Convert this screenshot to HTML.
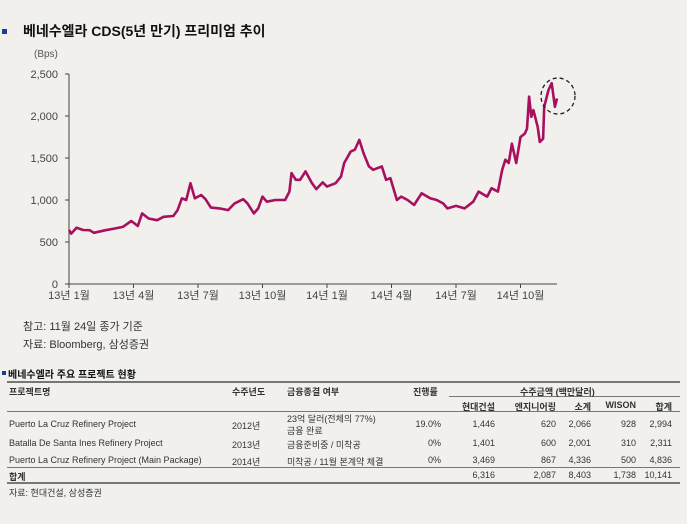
<!DOCTYPE html>
<html><head><meta charset="utf-8"><style>
body{margin:0;width:687px;height:524px;background:#f1f0ed;font-family:"Liberation Sans","Noto Sans CJK KR",sans-serif;color:#222;overflow:hidden;position:relative}
.a{position:absolute;white-space:nowrap}
.t{font-size:9px;color:#333}
.r{text-align:right}
.ln{position:absolute;height:0;border-top:1px solid #777}
</style></head><body>
<div class="a" style="left:2px;top:29px;width:5px;height:5px;background:#1a3d9a"></div>
<div class="a" style="left:23px;top:21px;font-size:14px;font-weight:bold;color:#111">베네수엘라 CDS(5년 만기) 프리미엄 추이</div>
<svg class="a" style="left:0;top:0" width="687" height="360">
<g id="axes"></g><path id="line" fill="none" stroke="#a8105f" stroke-width="2.6" stroke-linejoin="round"></path>
<ellipse cx="558" cy="96" rx="17" ry="18" fill="none" stroke="#222" stroke-width="1.3" stroke-dasharray="4,3"></ellipse>
</svg>
<div class="a" style="left:34px;top:49px;font-size:10px;color:#555">(Bps)</div>
<div class="a" style="left:23px;top:318px;font-size:11px;color:#333">참고: 11월 24일 종가 기준</div>
<div class="a" style="left:23px;top:336px;font-size:11px;color:#333">자료: Bloomberg, 삼성증권</div>

<div class="a" style="left:2px;top:371px;width:4px;height:4px;background:#1a3d9a"></div>
<div class="a" style="left:8px;top:366px;font-size:10px;font-weight:bold;color:#111">베네수엘라 주요 프로젝트 현황</div>
<div class="ln" style="left:7px;width:673px;top:381px;border-top:2px solid #777"></div>
<div class="ln" style="left:449px;width:231px;top:396px"></div>
<div class="ln" style="left:7px;width:673px;top:411px"></div>
<div class="ln" style="left:7px;width:673px;top:467px"></div>
<div class="ln" style="left:7px;width:673px;top:482px;border-top:2px solid #777"></div>
<div>
<div class="a t" style="left:9px;top:385px;font-weight:bold">프로젝트명</div>
<div class="a t" style="left:232px;top:385px;font-weight:bold">수주년도</div>
<div class="a t" style="left:287px;top:385px;font-weight:bold">금융종결 여부</div>
<div class="a t" style="left:413px;top:385px;font-weight:bold">진행률</div>
<div class="a t" style="left:520px;top:385px;font-weight:bold">수주금액 (백만달러)</div>
<div class="a t r" style="right:192px;top:400px;font-weight:bold">현대건설</div>
<div class="a t r" style="right:131px;top:400px;font-weight:bold">엔지니어링</div>
<div class="a t r" style="right:96px;top:400px;font-weight:bold">소계</div>
<div class="a t r" style="right:51px;top:400px;font-weight:bold">WISON</div>
<div class="a t r" style="right:15px;top:400px;font-weight:bold">합계</div>

<div class="a t" style="left:9px;top:419px">Puerto La Cruz Refinery Project</div>
<div class="a t" style="left:232px;top:419px">2012년</div>
<div class="a t" style="left:287px;top:413px;line-height:12px">23억 달러(전체의 77%)<br>금융 완료</div>
<div class="a t r" style="right:246px;top:419px">19.0%</div>
<div class="a t r" style="right:192px;top:419px">1,446</div>
<div class="a t r" style="right:131px;top:419px">620</div>
<div class="a t r" style="right:96px;top:419px">2,066</div>
<div class="a t r" style="right:51px;top:419px">928</div>
<div class="a t r" style="right:15px;top:419px">2,994</div>

<div class="a t" style="left:9px;top:438px">Batalla De Santa Ines Refinery Project</div>
<div class="a t" style="left:232px;top:438px">2013년</div>
<div class="a t" style="left:287px;top:438px">금융준비중 / 미착공</div>
<div class="a t r" style="right:246px;top:438px">0%</div>
<div class="a t r" style="right:192px;top:438px">1,401</div>
<div class="a t r" style="right:131px;top:438px">600</div>
<div class="a t r" style="right:96px;top:438px">2,001</div>
<div class="a t r" style="right:51px;top:438px">310</div>
<div class="a t r" style="right:15px;top:438px">2,311</div>

<div class="a t" style="left:9px;top:455px">Puerto La Cruz Refinery Project (Main Package)</div>
<div class="a t" style="left:232px;top:455px">2014년</div>
<div class="a t" style="left:287px;top:455px">미착공 / 11월 본계약 체결</div>
<div class="a t r" style="right:246px;top:455px">0%</div>
<div class="a t r" style="right:192px;top:455px">3,469</div>
<div class="a t r" style="right:131px;top:455px">867</div>
<div class="a t r" style="right:96px;top:455px">4,336</div>
<div class="a t r" style="right:51px;top:455px">500</div>
<div class="a t r" style="right:15px;top:455px">4,836</div>

<div class="a t" style="left:9px;top:470px;font-weight:bold">합계</div>
<div class="a t r" style="right:192px;top:470px">6,316</div>
<div class="a t r" style="right:131px;top:470px">2,087</div>
<div class="a t r" style="right:96px;top:470px">8,403</div>
<div class="a t r" style="right:51px;top:470px">1,738</div>
<div class="a t r" style="right:15px;top:470px">10,141</div>
</div>
<div class="a t" style="left:9px;top:486px">자료: 현대건설, 삼성증권</div>

<script>
const months=[0,0.1,0.35,0.65,0.96,1.16,1.7,2.1,2.5,2.9,3.2,3.4,3.7,4.1,4.4,4.85,5.05,5.25,5.45,5.65,5.85,6.15,6.35,6.6,7.0,7.4,7.7,8.1,8.3,8.6,8.8,9.0,9.2,9.6,10.05,10.25,10.35,10.55,10.75,11.0,11.3,11.5,11.8,12.0,12.4,12.65,12.8,13.1,13.3,13.5,13.7,13.95,14.15,14.55,14.75,14.95,15.25,15.45,15.75,16.05,16.4,16.8,17.1,17.4,17.6,18.0,18.4,18.8,19.05,19.45,19.65,19.95,20.15,20.3,20.45,20.6,20.8,21.0,21.2,21.3,21.4,21.5,21.6,21.8,21.9,22.05,22.1,22.3,22.45,22.6,22.7];
const values=[643,600,670,643,640,610,640,660,680,750,690,840,780,760,800,810,880,1020,1000,1200,1020,1060,1010,910,900,880,960,1010,960,840,900,1040,980,1000,1000,1100,1320,1240,1240,1340,1200,1130,1210,1160,1200,1280,1440,1575,1600,1715,1555,1400,1360,1400,1240,1260,1000,1040,1000,940,1080,1020,1000,960,900,930,900,980,1100,1040,1140,1100,1360,1480,1440,1670,1440,1750,1790,1850,2230,1990,2070,1870,1690,1730,2110,2310,2390,2110,2210];
const yTicks=[0,500,1000,1500,2000,2500];
const yTickLabels=["0","500","1,000","1,500","2,000","2,500"];
const xTickLabels=["13년 1월","13년 4월","13년 7월","13년 10월","14년 1월","14년 4월","14년 7월","14년 10월"];
const X0=69,PXM=21.5,Y0=284,PXV=210/2500;
const xs=m=>X0+m*PXM, ys=v=>Y0-v*PXV;
const NS="http://www.w3.org/2000/svg";
const ax=document.getElementById('axes');
function mk(t,a){const e=document.createElementNS(NS,t);for(const k in a)e.setAttribute(k,a[k]);ax.appendChild(e);return e;}
let e=mk('line',{x1:X0,y1:ys(2500),x2:X0,y2:Y0,stroke:'#444'});


e=mk('line',{x1:X0,y1:Y0,x2:557,y2:Y0,stroke:'#444'});


yTicks.forEach((v,i)=>{
 mk('line',{x1:X0-4,y1:ys(v),x2:X0,y2:ys(v),stroke:'#444'});
 const t=mk('text',{x:X0-11,y:ys(v)+4,'text-anchor':'end','font-size':'11','fill':'#444','font-family':'Liberation Sans'});
 t.textContent=yTickLabels[i];
 
 
});
xTickLabels.forEach((l,i)=>{
 const x=xs(i*3);
 mk('line',{x1:x,y1:Y0,x2:x,y2:Y0+4,stroke:'#444'});
 const t=mk('text',{x:x,y:Y0+15,'text-anchor':'middle','font-size':'11','fill':'#444','font-family':'Liberation Sans, Noto Sans CJK KR, sans-serif'});
 t.textContent=l;
 
 
});
document.getElementById('line').setAttribute('d',months.map((m,i)=>(i?'L':'M')+xs(m).toFixed(1)+','+ys(values[i]).toFixed(1)).join(''));
</script>
</body></html>
